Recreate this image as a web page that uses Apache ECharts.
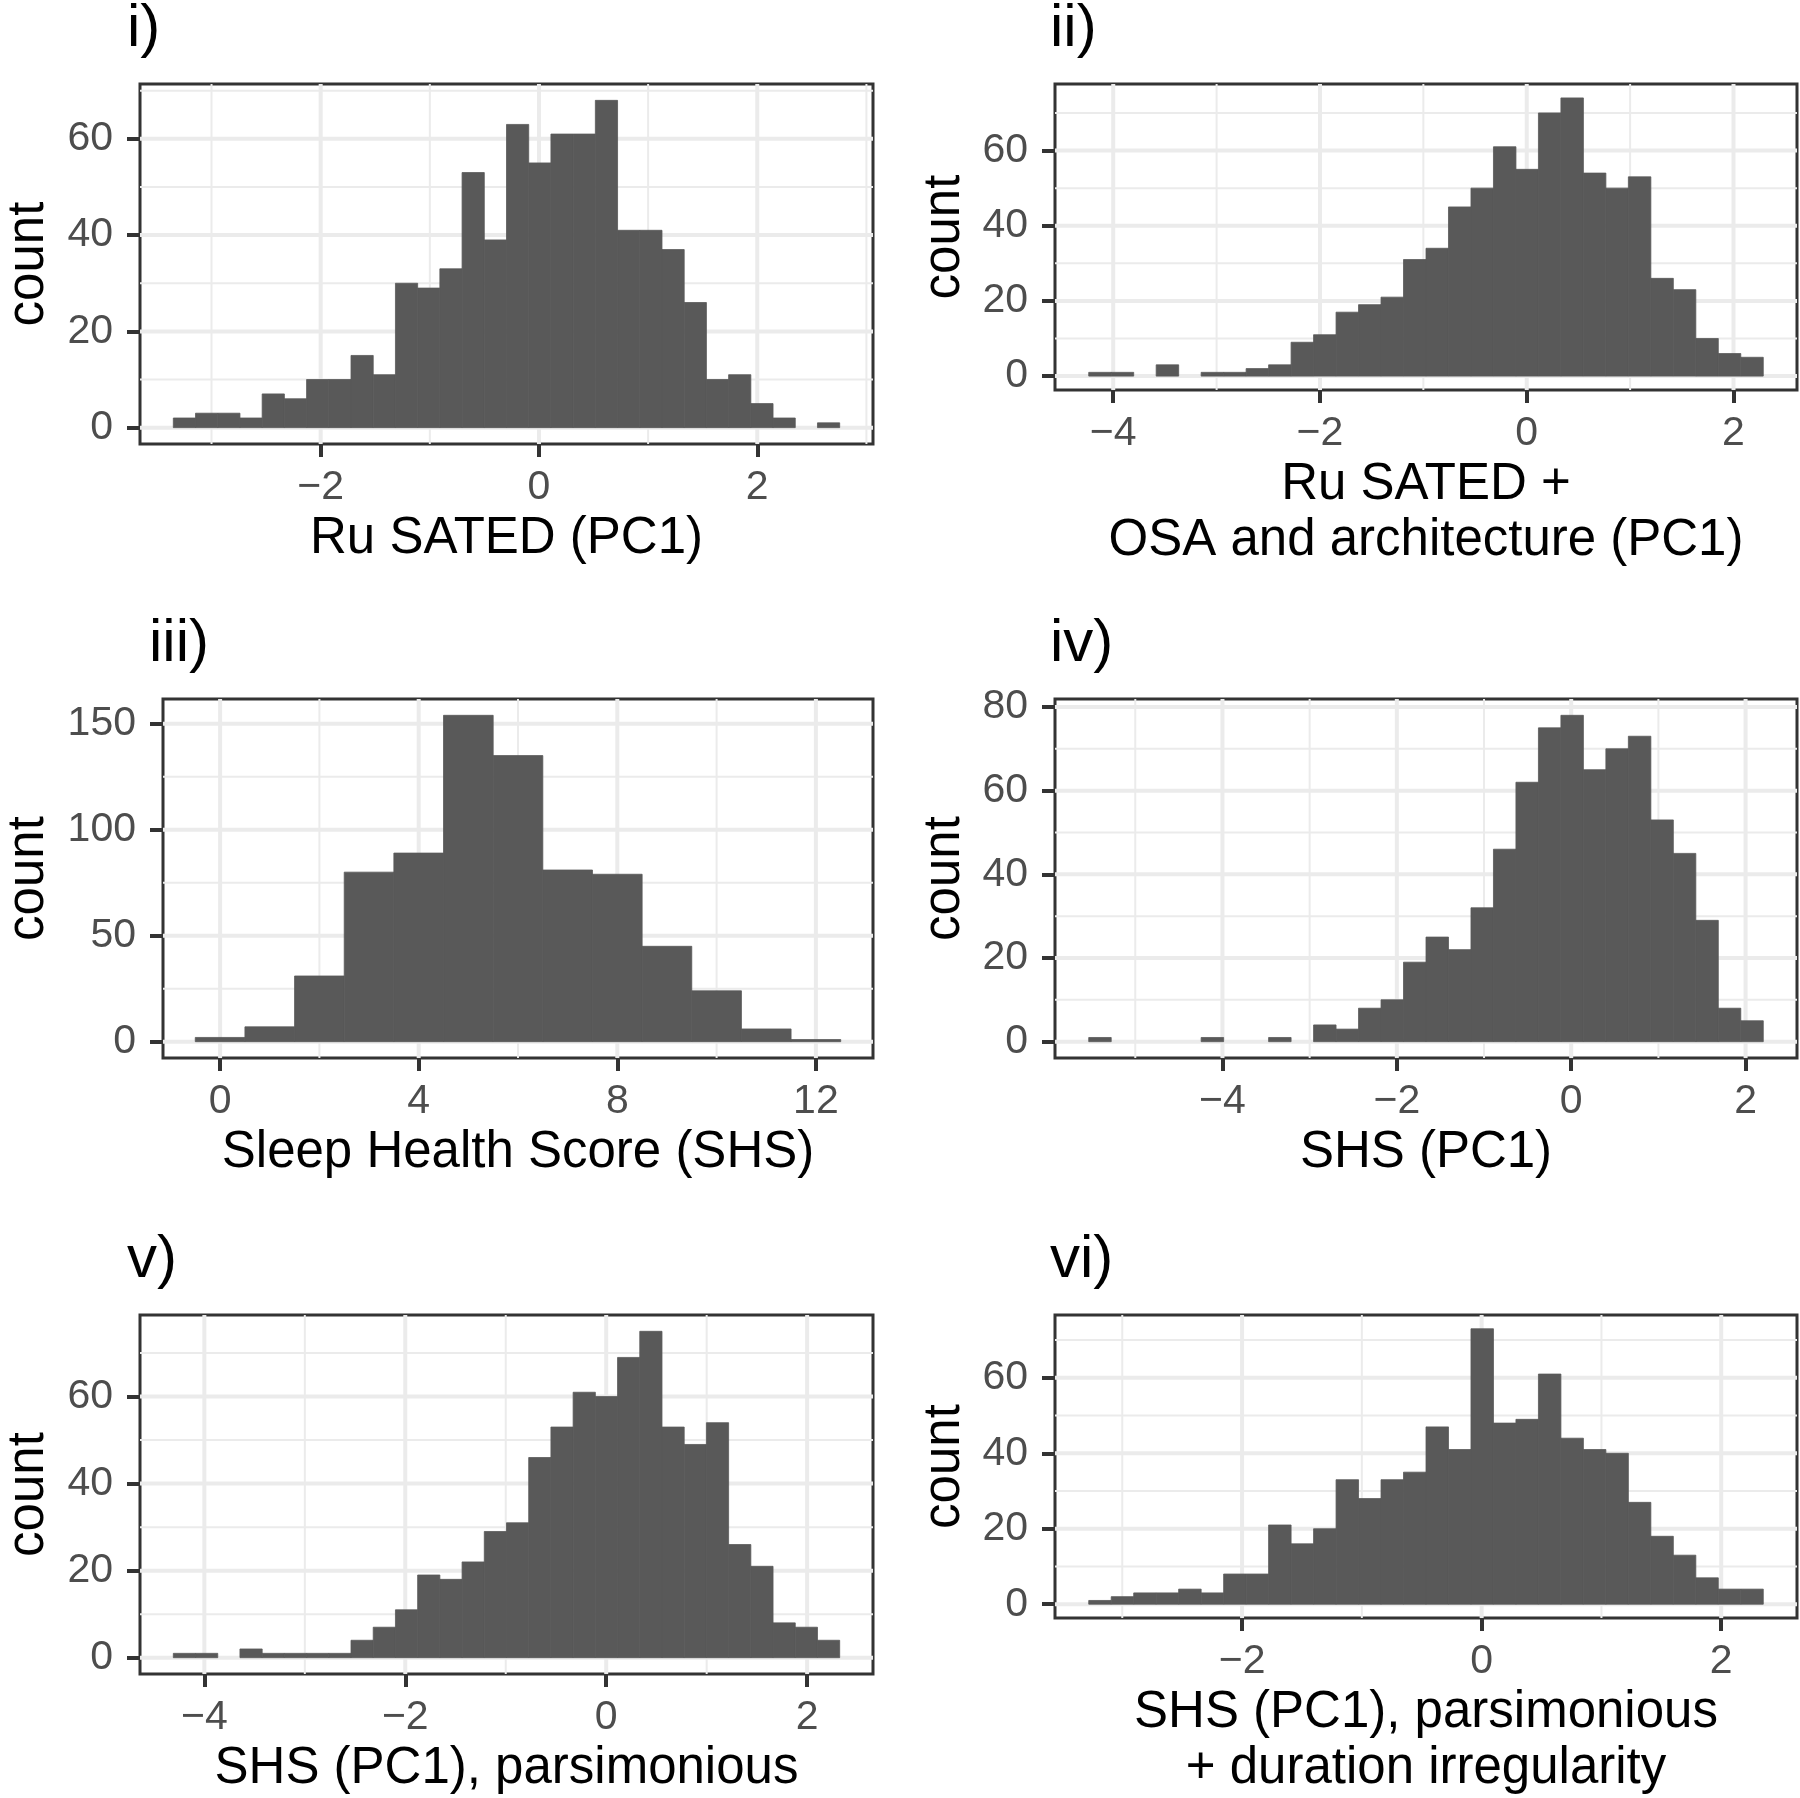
<!DOCTYPE html>
<html><head><meta charset="utf-8">
<script src="https://cdn.jsdelivr.net/npm/echarts@6/dist/echarts.min.js"></script>
<style>html,body{margin:0;padding:0;background:#fff}#c{width:1800px;height:1798px}</style>
</head><body><div id="c"></div>
<script>
// ---------- data ----------
// bin = [left edge of first bin, bin width]; counts per bin
const binI = [-3.35, 0.2035];
const countsI = [2,3,3,2,7,6,10,10,15,11,30,29,33,53,39,63,55,61,61,68,41,41,37,26,10,11,5,2,0,1];
const xTicksI = [-2, 0, 2];
const yTicksI = [0, 20, 40, 60];

const binII = [-4.237, 0.2175];
const countsII = [1,1,0,3,0,1,1,2,3,9,11,17,19,21,31,34,45,50,61,55,70,74,54,50,53,26,23,10,6,5];
const xTicksII = [-4, -2, 0, 2];
const yTicksII = [0, 20, 40, 60];

const binIII = [-0.5, 1];
const countsIII = [2,7,31,80,89,154,135,81,79,45,24,6,1];
const xTicksIII = [0, 4, 8, 12];
const yTicksIII = [0, 50, 100, 150];

const binIV = [-5.534, 0.2579];
const countsIV = [1,0,0,0,0,1,0,0,1,0,4,3,8,10,19,25,22,32,46,62,75,78,65,70,73,53,45,29,8,5];
const xTicksIV = [-4, -2, 0, 2];
const yTicksIV = [0, 20, 40, 60, 80];

const binV = [-4.309, 0.2211];
const countsV = [1,1,0,2,1,1,1,1,4,7,11,19,18,22,29,31,46,53,61,60,69,75,53,49,54,26,21,8,7,4];
const xTicksV = [-4, -2, 0, 2];
const yTicksV = [0, 20, 40, 60];

const binVI = [-3.280, 0.1877];
const countsVI = [1,2,3,3,4,3,8,8,21,16,20,33,28,33,35,47,41,73,48,49,61,44,41,40,27,18,13,7,4,4];
const xTicksVI = [-2, 0, 2];
const yTicksVI = [0, 20, 40, 60];

const tags = ['i)', 'ii)', 'iii)', 'iv)', 'v)', 'vi)'];
const xTitles = [
  'Ru SATED (PC1)',
  'Ru SATED +\nOSA and architecture (PC1)',
  'Sleep Health Score (SHS)',
  'SHS (PC1)',
  'SHS (PC1), parsimonious',
  'SHS (PC1), parsimonious\n+ duration irregularity'
];
const yTitle = 'count';

// ---------- layout / style ----------
const FONT = '"Liberation Sans", Arial, Helvetica, sans-serif';
const boxes = [
  {left:132, top:84,  width:741, height:360},
  {left:1055, top:84, width:742, height:306},
  {left:154, top:699, width:719, height:359},
  {left:1055, top:699, width:742, height:359},
  {left:132, top:1315, width:741, height:361},
  {left:1055, top:1315, width:742, height:306}
];
const yNameGaps = [83, 82, 106, 82, 83, 82];

const panels = [
  {bin:binI, counts:countsI, xt:xTicksI, yt:yTicksI},
  {bin:binII, counts:countsII, xt:xTicksII, yt:yTicksII},
  {bin:binIII, counts:countsIII, xt:xTicksIII, yt:yTicksIII},
  {bin:binIV, counts:countsIV, xt:xTicksIV, yt:yTicksIV},
  {bin:binV, counts:countsV, xt:xTicksV, yt:yTicksV},
  {bin:binVI, counts:countsVI, xt:xTicksVI, yt:yTicksVI}
];

function fmt(v){ return v < 0 ? '\u2212' + Math.abs(v) : String(v); }
function gridVals(ticks, lo, hi){
  const step = ticks[1] - ticks[0];
  const out = [];
  ticks.forEach(t => out.push([t, 1]));
  const first = ticks[0] - step/2, last = ticks[ticks.length-1] + step/2;
  for (let m = first; m <= last + 1e-9; m += step) {
    if (m > lo && m < hi) out.push([m, 0]);
  }
  return out;
}

const option = {animation:false, backgroundColor:'#fff', title:[], grid:[], xAxis:[], yAxis:[], series:[]};

panels.forEach((p, i) => {
  const b = boxes[i];
  const x0 = p.bin[0], w = p.bin[1], n = p.counts.length;
  const x1 = x0 + n*w, span = x1 - x0;
  const xmin = x0 - 0.05*span, xmax = x1 + 0.05*span;
  const cmax = Math.max.apply(null, p.counts);
  const ymin = -0.05*cmax, ymax = 1.05*cmax;

  option.title.push({
    text: tags[i], left: b.left - 5, top: b.top - 85, padding: 0,
    textStyle: {fontSize: 60, fontWeight: 'normal', color: '#000', fontFamily: FONT, lineHeight: 60}
  });
  option.grid.push({left:b.left, top:b.top, width:b.width, height:b.height, show:true,
    backgroundColor:'#fff', borderColor:'#333333', borderWidth:3, containLabel:false, z:0});

  option.xAxis.push({
    type:'value', gridIndex:i, min:xmin, max:xmax, position:'bottom',
    axisLine:{show:false, onZero:false},
    axisTick:{show:true, inside:false, customValues:p.xt, length:13, lineStyle:{color:'#333333', width:4}},
    axisLabel:{show:true, customValues:p.xt, margin:23, fontSize:41, color:'#4D4D4D', fontFamily:FONT,
      formatter:fmt, hideOverlap:false},
    splitLine:{show:false},
    name: xTitles[i], nameLocation:'middle', nameGap:67,
    nameTextStyle:{fontSize:51, color:'#000', fontFamily:FONT, lineHeight:56}
  });
  option.yAxis.push({
    type:'value', gridIndex:i, min:ymin, max:ymax, position:'left',
    axisLine:{show:false, onZero:false},
    axisTick:{show:true, inside:false, customValues:p.yt, length:13, lineStyle:{color:'#333333', width:4}},
    axisLabel:{show:true, customValues:p.yt, margin:27, fontSize:41, color:'#4D4D4D', fontFamily:FONT,
      formatter:fmt, hideOverlap:false},
    splitLine:{show:false},
    name: yTitle, nameLocation:'middle', nameGap:yNameGaps[i], nameRotate:90,
    nameTextStyle:{fontSize:51, color:'#000', fontFamily:FONT, lineHeight:56}
  });

  // vertical grid lines
  option.series.push({
    type:'custom', xAxisIndex:i, yAxisIndex:i, z:1, silent:true,
    data: gridVals(p.xt, xmin, xmax),
    renderItem: function(params, api){
      const cs = params.coordSys;
      const px = api.coord([api.value(0), 0])[0];
      return {type:'line', shape:{x1:px, y1:cs.y, x2:px, y2:cs.y+cs.height},
        style:{stroke:'#EBEBEB', lineWidth: api.value(1) ? 4 : 2}};
    }
  });
  // horizontal grid lines
  option.series.push({
    type:'custom', xAxisIndex:i, yAxisIndex:i, z:1, silent:true,
    data: gridVals(p.yt, ymin, ymax).map(d => [0, d[0], d[1]]),
    encode:{x:0, y:1},
    renderItem: function(params, api){
      const cs = params.coordSys;
      const py = api.coord([0, api.value(1)])[1];
      return {type:'line', shape:{x1:cs.x, y1:py, x2:cs.x+cs.width, y2:py},
        style:{stroke:'#EBEBEB', lineWidth: api.value(2) ? 4 : 2}};
    }
  });
  // histogram bars
  const barData = p.counts.map((c, k) => [x0 + k*w, x0 + (k+1)*w, c]);
  option.series.push({
    type:'custom', xAxisIndex:i, yAxisIndex:i, z:3, silent:true,
    data: barData, encode:{x:[0,1], y:2},
    renderItem: function(params, api){
      if (api.value(2) <= 0) return null;
      const a = api.coord([api.value(0), 0]);
      const c = api.coord([api.value(1), api.value(2)]);
      return {type:'rect', shape:{x:a[0], y:c[1], width:c[0]-a[0], height:a[1]-c[1]},
        style:{fill:'#595959', stroke:'#595959', lineWidth:0.8}};
    }
  });
});

const chart = echarts.init(document.getElementById('c'), null, {renderer:'canvas'});
chart.setOption(option);
</script>
</body></html>
